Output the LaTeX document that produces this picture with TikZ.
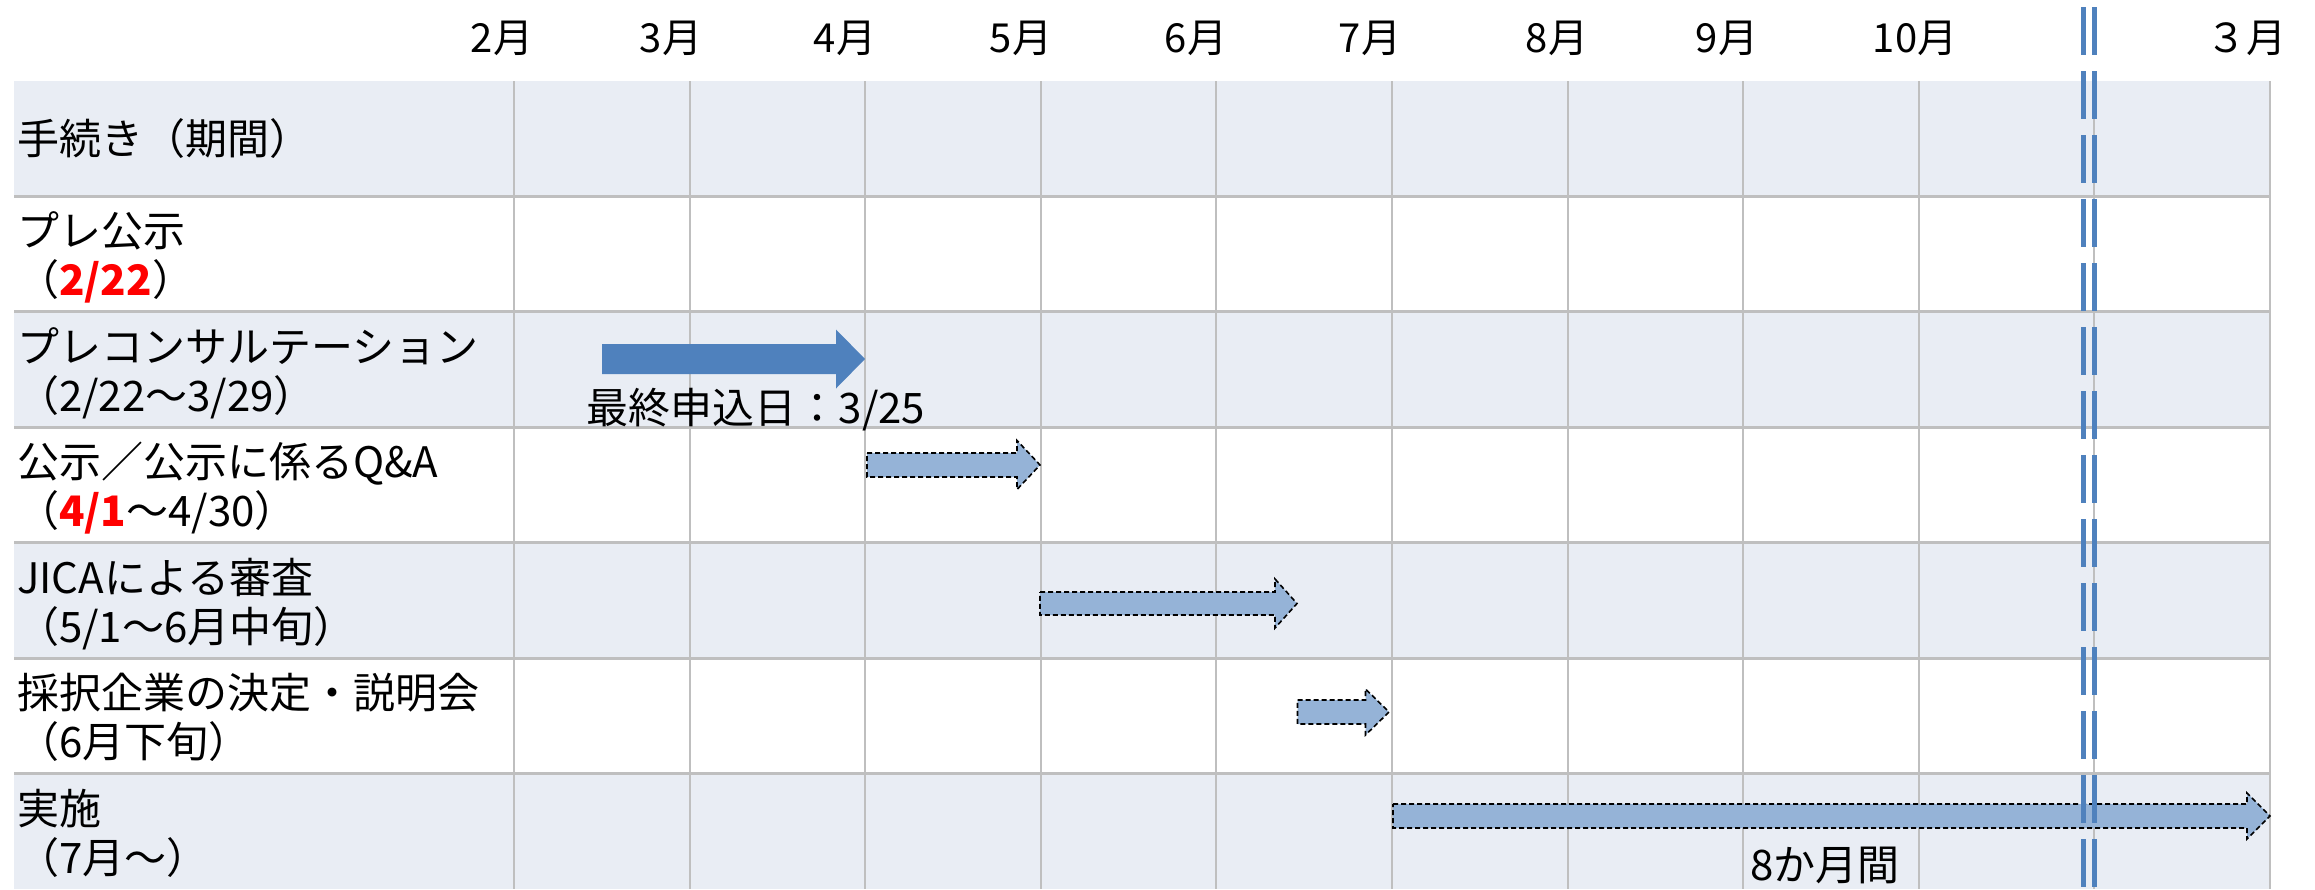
\documentclass[tikz,border=0pt]{standalone}
\usepackage{fontspec}
\setmainfont{Noto Sans CJK JP}
\definecolor{band}{HTML}{E9EDF4}
\definecolor{gridc}{HTML}{BFBFBF}
\definecolor{accent}{HTML}{4F81BD}
\definecolor{lightbar}{HTML}{95B3D7}
\definecolor{redtxt}{HTML}{FF0000}
\newcommand\garrow[7]{%
  \path[#1] (#2,#4-#5) -- (#3-#7,#4-#5) -- (#3-#7,#4-#6) -- (#3,#4)
    -- (#3-#7,#4+#6) -- (#3-#7,#4+#5) -- (#2,#4+#5) -- cycle;}
\tikzset{
  rowlabel/.style={anchor=west, inner sep=0pt, text height=37pt, text depth=5pt,
    font=\fontsize{42}{50}\selectfont},
  monthlabel/.style={inner sep=0pt, text height=35.2pt, text depth=4.8pt,
    font=\fontsize{40}{48}\selectfont},
  note/.style={inner sep=0pt, text height=37pt, text depth=5pt,
    font=\fontsize{42}{50}\selectfont},
  gridline/.style={draw=gridc, line width=2pt},
  rowline/.style={draw=gridc, line width=3pt},
  solidbar/.style={fill=accent},
  dashbar/.style={fill=lightbar, draw=black, line width=1.6pt, dash pattern=on 5pt off 3pt},
  cutline/.style={draw=accent, line width=5pt, dash pattern=on 48pt off 16pt}
}
\begin{document}
\begin{tikzpicture}[x=1pt, y=-1pt]
\useasboundingbox (0,0) rectangle (2315,889);
\fill[white] (0,0) rectangle (2315,889);
% bands
\foreach \k in {0,2,4} \fill[band] (14,81+115.4*\k) rectangle (2270,81+115.4*\k+115.4);
\fill[band] (14,773.4) rectangle (2270,889);
% grid
\foreach \i in {0,...,10} \draw[gridline] (514+175.6*\i,81) -- (514+175.6*\i,889);
\foreach \k in {1,...,6} \draw[rowline] (14,81+115.4*\k) -- (2270,81+115.4*\k);
% bars
\garrow{solidbar}{602}{865}{359}{15}{29.5}{29}
\garrow{dashbar}{867}{1040}{465}{12}{24.5}{23}
\garrow{dashbar}{1040}{1297}{603.5}{11.5}{24.5}{22}
\garrow{dashbar}{1297.5}{1389}{712}{12}{23}{23.5}
\garrow{dashbar}{1393}{2270}{816}{12}{23}{23}
% cut line
\draw[cutline] (2083.5,7) -- (2083.5,889);
\draw[cutline] (2094,7) -- (2094,889);
% month labels
\node[monthlabel] (m2) at (502,37) {2月};
\node[monthlabel] (m3) at (671,37) {3月};
\node[monthlabel] (m4) at (845,37) {4月};
\node[monthlabel] (m5) at (1021,37) {5月};
\node[monthlabel] (m6) at (1196,37) {6月};
\node[monthlabel] (m7) at (1370,37) {7月};
\node[monthlabel] (m8) at (1557,37) {8月};
\node[monthlabel] (m9) at (1727,37) {9月};
\node[monthlabel] (m10) at (1915,37) {10月};
\node[monthlabel, anchor=east] (m3b) at (2287,37) {３月};
% row labels
\node[rowlabel] (r1) at (17,138) {手続き（期間）};
\node[rowlabel] (r2a) at (17,230) {プレ公示};
\node[rowlabel] (r2b) at (17,279) {（{\color{redtxt}\bfseries 2/22}）};
\node[rowlabel] (r3a) at (17,346) {プレコンサルテーション};
\node[rowlabel] (r3b) at (17,395) {（2/22～3/29）};
\node[rowlabel] (r4a) at (17,461) {公示／公示に係るQ\&A};
\node[rowlabel] (r4b) at (17,510) {（{\color{redtxt}\bfseries 4/1}～4/30）};
\node[rowlabel] (r5a) at (17,577) {JICAによる審査};
\node[rowlabel] (r5b) at (17,626) {（5/1～6月中旬）};
\node[rowlabel] (r6a) at (17,692) {採択企業の決定・説明会};
\node[rowlabel] (r6b) at (17,741) {（6月下旬）};
\node[rowlabel] (r7a) at (17,808) {実施};
\node[rowlabel] (r7b) at (17,857) {（7月～）};
% notes
\node[note] (deadline) at (756,407) {最終申込日：3/25};
\node[note] (dur) at (1825,864) {8か月間};
\end{tikzpicture}
\end{document}
